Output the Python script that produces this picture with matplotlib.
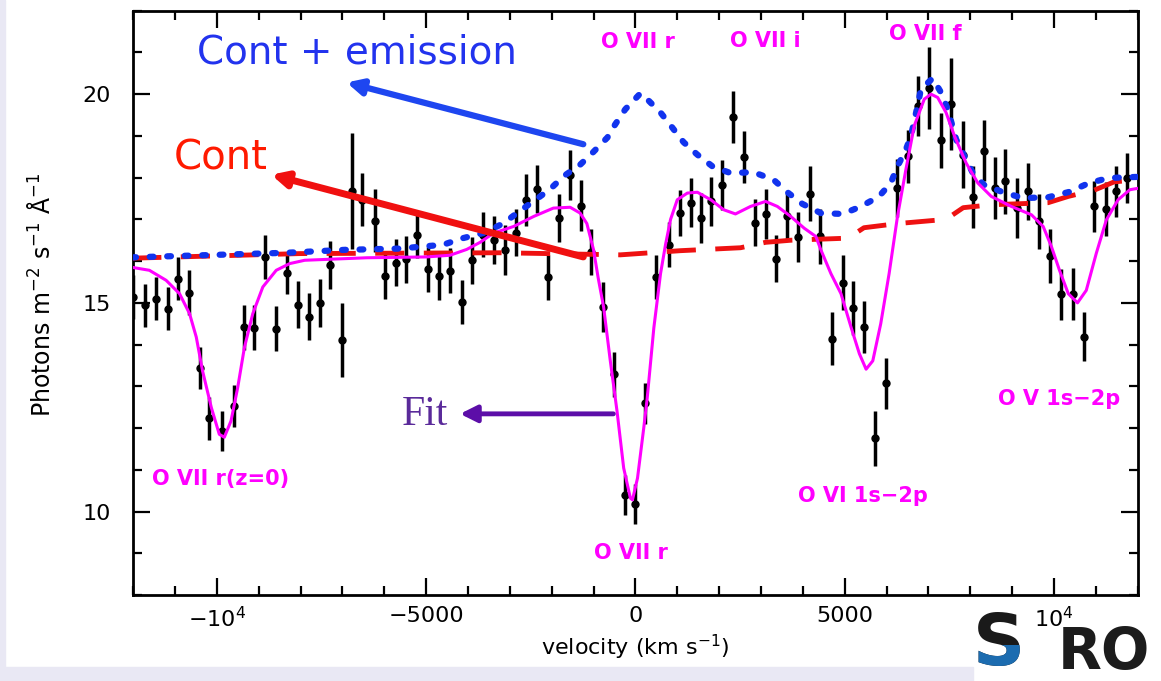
import matplotlib
matplotlib.use("Agg")
import matplotlib.pyplot as plt
from matplotlib.patches import Rectangle
from matplotlib.ticker import MultipleLocator

# measured spectrum (velocity in km/s, photons m^-2 s^-1 A^-1)
vel = [-12010, -11710, -11450, -11170, -10920, -10670, -10410, -10180, -9870, -9600,
       -9360, -9100, -8860, -8590, -8320, -8060, -7800, -7540, -7290, -7010,
       -6760, -6520, -6220, -5970, -5720, -5470, -5210, -4950, -4690, -4430,
       -4150, -3900, -3630, -3380, -3110, -2850, -2610, -2340, -2080, -1820,
       -1570, -1300, -1060, -770, -500, -260, 0, 230, 480, 800,
       1060, 1320, 1560, 1810, 2080, 2340, 2590, 2850, 3110, 3350,
       3630, 3890, 4180, 4410, 4690, 4950, 5190, 5450, 5720, 5990,
       6250, 6510, 6760, 7020, 7290, 7540, 7820, 8060, 8320, 8580,
       8840, 9120, 9380, 9650, 9910, 10170, 10450, 10710, 10960, 11230,
       11490, 11740]
flux = [15.14, 14.94, 15.10, 14.86, 15.58, 15.24, 13.44, 12.23, 11.93, 12.53,
        14.42, 14.40, 16.10, 14.38, 15.72, 14.96, 14.67, 15.00, 15.90, 14.11,
        17.67, 17.47, 16.97, 15.64, 15.96, 16.04, 16.63, 15.80, 15.64, 15.77,
        15.02, 16.02, 16.63, 16.51, 16.27, 16.68, 17.47, 17.73, 15.61, 17.03,
        18.07, 17.33, 16.22, 14.90, 13.29, 10.40, 10.17, 12.59, 15.62, 16.39,
        17.15, 17.40, 17.03, 17.43, 17.83, 19.46, 18.50, 16.92, 17.13, 16.06,
        17.07, 16.57, 17.61, 16.59, 14.14, 15.48, 14.88, 14.42, 11.75, 13.07,
        17.75, 18.51, 19.72, 20.14, 18.90, 19.76, 18.55, 17.53, 18.65, 17.75,
        17.91, 17.28, 17.67, 16.95, 16.12, 15.20, 15.22, 14.19, 17.31, 17.25,
        17.67, 17.99]
err = [.52, .52, .52, .52, .52, .54, .50, .52, .48, .50,
       .54, .54, .52, .54, .50, .56, .56, .57, .58, .89,
       1.39, .64, .76, .54, .56, .56, .55, .54, .56, .54,
       .52, .56, .54, .58, .60, .56, .62, .58, .54, .58,
       .60, .62, .56, .60, .54, .48, .48, .50, .52, .54,
       .56, .58, .60, .58, .60, .62, .62, .56, .60, .56,
       .56, .60, .66, .66, .64, .66, .64, .62, .66, .62,
       .70, .64, .72, .98, .66, 1.10, .80, .74, .72, .74,
       .78, .72, .68, .66, .64, .62, .62, .58, .62, .64,
       .62, .60]

# continuum model
cont_v = [-12020, -8020, -3230, -360, 1080, 2510, 3110, 3710, 5080, 5460,
          6270, 7420, 7830, 8500, 9860, 10340, 10960, 11440, 12040]
cont_f = [16.07, 16.18, 16.20, 16.15, 16.25, 16.32, 16.45, 16.50, 16.55, 16.80,
          16.90, 17.00, 17.28, 17.35, 17.40, 17.55, 17.70, 17.90, 17.95]

# continuum + emission model
emis_v = [-12020, -8330, -6940, -5630, -5080, -4600, -4120, -3640, -3160, -2750,
          -2440, -2030, -1720, -1320, -1010, -670, -480, -240, 120, 280,
          600, 880, 1150, 1480, 1840, 2270, 2820, 3300, 3630, 3990,
          4430, 4950, 5390, 5820, 6100, 6260, 6460, 6580, 6740, 6820,
          7100, 7300, 7460, 7660, 7860, 8060, 8320, 8780, 9260, 9860,
          10370, 10810, 11290, 12040]
emis_f = [16.09, 16.20, 16.27, 16.30, 16.35, 16.39, 16.55, 16.67, 16.90, 17.21,
          17.43, 17.73, 18.03, 18.31, 18.61, 18.96, 19.28, 19.64, 20.02, 19.88,
          19.56, 19.20, 18.85, 18.55, 18.27, 18.11, 18.13, 17.95, 17.65, 17.37,
          17.15, 17.13, 17.31, 17.55, 17.87, 18.27, 18.67, 18.99, 19.72, 20.12,
          20.38, 20.04, 19.64, 18.92, 18.51, 18.11, 17.83, 17.65, 17.51, 17.53,
          17.66, 17.86, 17.99, 18.02]

# best fit model
fit_v = [-12020, -11610, -11210, -10890, -10650, -10490, -10340, -10130, -9940, -9820,
         -9660, -9500, -9340, -9140, -8900, -8580, -8260, -7900, -6420, -4990,
         -4430, -4030, -3710, -3390, -2910, -2430, -1960, -1560, -1320, -1160,
         -1000, -890, -760, -600, -440, -280, -120, -70, 50, 200,
         280, 440, 600, 720, 840, 1000, 1240, 1480, 1800, 2110,
         2390, 2750, 3110, 3390, 3710, 4030, 4310, 4430, 4670, 4910,
         5150, 5350, 5510, 5670, 5860, 6060, 6260, 6460, 6660, 6900,
         7060, 7220, 7420, 7620, 7900, 8180, 8500, 8980, 9460, 9740,
         9940, 10130, 10340, 10560, 10770, 11010, 11250, 11530, 11810, 12040]
fit_f = [15.85, 15.78, 15.54, 15.22, 14.74, 14.18, 13.37, 12.49, 11.85, 11.78,
         12.17, 12.97, 13.93, 14.74, 15.38, 15.78, 15.94, 16.02, 16.08, 16.10,
         16.14, 16.28, 16.45, 16.67, 16.83, 17.07, 17.27, 17.29, 17.15, 16.90,
         16.27, 15.60, 14.90, 13.61, 12.41, 11.04, 10.32, 10.28, 10.80, 12.01,
         12.70, 14.40, 15.70, 16.40, 17.00, 17.47, 17.63, 17.65, 17.47, 17.23,
         17.13, 17.31, 17.43, 17.31, 17.07, 16.79, 16.59, 16.27, 15.70, 15.22,
         14.42, 13.78, 13.41, 13.61, 14.50, 15.70, 17.07, 18.19, 19.24, 19.88,
         20.00, 19.92, 19.56, 19.00, 18.35, 17.87, 17.55, 17.31, 17.11, 16.83,
         16.34, 15.78, 15.22, 15.00, 15.30, 16.19, 16.99, 17.47, 17.71, 17.75]

line_labels = ["O VII r", "O VII i", "O VII f", "O VII r(z=0)",
               "O VII r", "O VI 1s\u22122p", "O V 1s\u22122p"]
line_label_pos = [(50, 21.25), (3100, 21.28), (6920, 21.45), (-9900, 10.77),
                  (-100, 9.01), (5430, 10.36), (10130, 12.7)]

fig = plt.figure(figsize=(11.61, 6.81), dpi=100)
fig.patches.append(Rectangle((5 / 1161, 0), 968 / 1161, 14 / 681,
                             transform=fig.transFigure, color="#e9e8f4", zorder=0))
fig.patches.append(Rectangle((0, 0), 5 / 1161, 1, transform=fig.transFigure,
                             color="#e9e8f4", zorder=0))

ax = fig.add_axes([0.1146, 0.1263, 0.8654, 0.858])

ax.errorbar(vel, flux, yerr=err, fmt="o", color="black", ms=5, elinewidth=2.5,
            capsize=0, zorder=3)
ax.plot(cont_v, cont_f, color="#ee1111", lw=3.5, dashes=(6, 4), zorder=4)
ax.plot(emis_v, emis_f, color="#1133ee", lw=4.5, dashes=(0.6, 2.2),
        dash_capstyle="round", zorder=5)
ax.plot(fit_v, fit_f, color="#ff00ff", lw=2.2, zorder=6)

for txt, (x, y) in zip(line_labels, line_label_pos):
    ax.text(x, y, txt, color="#ff00ff", fontsize=15, fontweight="bold",
            ha="center", va="center", zorder=7)

# annotations
ax.annotate("", xy=(-6900, 20.28), xytext=(-1245, 18.8),
            arrowprops=dict(arrowstyle="-|>,head_length=0.9,head_width=0.45",
                            color="#1e46f0", lw=4.5, shrinkA=0, shrinkB=0), zorder=8)
ax.text(-6650, 20.99, "Cont + emission", color="#2233ee", fontsize=28,
        ha="center", va="center", zorder=8)
ax.annotate("", xy=(-8700, 18.07), xytext=(-1245, 16.1),
            arrowprops=dict(arrowstyle="-|>,head_length=0.9,head_width=0.45",
                            color="#f01010", lw=5, shrinkA=0, shrinkB=0), zorder=8)
ax.text(-9910, 18.47, "Cont", color="#ff1a00", fontsize=29,
        ha="center", va="center", zorder=8)
ax.annotate("", xy=(-4190, 12.34), xytext=(-527, 12.34),
            arrowprops=dict(arrowstyle="-|>,head_length=1.0,head_width=0.5",
                            color="#5c0ea8", lw=3.5, shrinkA=0, shrinkB=0), zorder=8)
ax.text(-5030, 12.33, "Fit", color="#5a2a9a", fontsize=30, family="Liberation Serif",
        ha="center", va="center", zorder=8)

ax.set_xlim(-12000, 12000)
ax.set_ylim(8, 22)
ax.xaxis.set_major_locator(MultipleLocator(5000))
ax.xaxis.set_minor_locator(MultipleLocator(1000))
ax.yaxis.set_major_locator(MultipleLocator(5))
ax.yaxis.set_minor_locator(MultipleLocator(1))
ax.set_xticks([-10000, -5000, 0, 5000, 10000])
ax.set_xticklabels([r"$-10^4$", "\u22125000", "0", "5000", r"$10^4$"])
ax.tick_params(which="both", direction="in", top=True, right=True, width=1.6)
ax.tick_params(which="major", length=12, labelsize=16)
ax.tick_params(axis="x", which="major", pad=8)
ax.tick_params(axis="y", which="major", pad=16)
ax.tick_params(which="minor", length=6.5)
for s in ax.spines.values():
    s.set_linewidth(2)

ax.set_xlabel("velocity (km s$^{-1}$)", fontsize=16, labelpad=1)
ax.set_ylabel("Photons m$^{-2}$ s$^{-1}$ \u00c5$^{-1}$", fontsize=17)
ax.yaxis.set_label_coords(-0.078, 0.513)

# logo
fig.text(973 / 1161, 0.5 / 681, "S", color="#1a1a1a", fontsize=52,
         fontweight="bold", ha="left", va="bottom")
s_blue = fig.text(973 / 1161, 0.5 / 681, "S", color="#1c6cb0", fontsize=52,
                  fontweight="bold", ha="left", va="bottom")
s_blue.set_clip_path(Rectangle((0, 0), 1, (681 - 645) / 681, transform=fig.transFigure))
fig.text(1058 / 1161, 0.5 / 681, "RO", color="#1c1c1c", fontsize=41,
         fontweight="bold", ha="left", va="bottom")

fig.savefig("out.png", dpi=100)
